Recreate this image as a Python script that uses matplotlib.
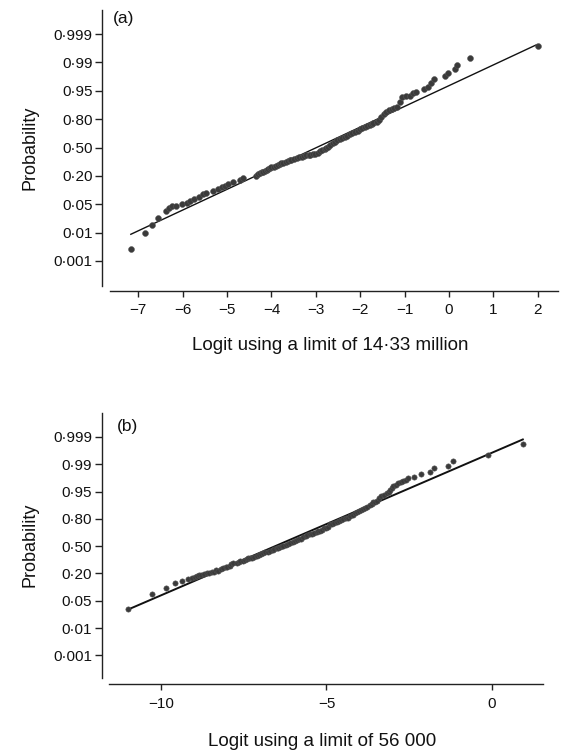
import matplotlib
matplotlib.use("Agg")
import matplotlib.pyplot as plt

plt.rcParams['font.family'] = ['Liberation Sans', 'DejaVu Sans']

# y positions are the equally spaced probability tick slots (0 = 0·001 ... 8 = 0·999)
prob_labels = ['0·001', '0·01', '0·05', '0·20', '0·50', '0·80', '0·95', '0·99', '0·999']
prob_slots = [0, 1, 2, 3, 4, 5, 6, 7, 8]

# Panel (a): logit using a limit of 14.33 million
a_x = [-7.17, -6.85, -6.69, -6.56, -6.38, -6.31, -6.25, -6.16, -6.02, -5.91,
       -5.84, -5.74, -5.63, -5.54, -5.48, -5.31, -5.21, -5.12, -5.05, -4.97,
       -4.87, -4.71, -4.64, -4.35, -4.30, -4.26, -4.22, -4.18, -4.15, -4.10,
       -4.07, -4.03, -4.00, -3.95, -3.90, -3.86, -3.81, -3.78, -3.74, -3.68,
       -3.62, -3.58, -3.55, -3.49, -3.43, -3.38, -3.32, -3.27, -3.21, -3.16,
       -3.12, -3.07, -3.02, -2.96, -2.91, -2.85, -2.80, -2.76, -2.72, -2.68,
       -2.62, -2.57, -2.52, -2.46, -2.40, -2.35, -2.29, -2.23, -2.18, -2.12,
       -2.06, -2.01, -1.95, -1.90, -1.84, -1.78, -1.74, -1.70, -1.63, -1.58,
       -1.52, -1.47, -1.41, -1.35, -1.29, -1.23, -1.17, -1.11, -1.05, -0.97,
       -0.88, -0.81, -0.73, -0.57, -0.47, -0.41, -0.33, -0.09, -0.02, 0.13,
       0.18, 0.47, 2.01]
a_y = [0.41, 0.98, 1.25, 1.51, 1.76, 1.86, 1.92, 1.95, 2.01, 2.06,
       2.12, 2.19, 2.27, 2.35, 2.41, 2.48, 2.54, 2.60, 2.66, 2.72,
       2.78, 2.86, 2.94, 3.00, 3.07, 3.10, 3.13, 3.15, 3.17, 3.20,
       3.23, 3.27, 3.30, 3.33, 3.36, 3.39, 3.42, 3.44, 3.47, 3.50,
       3.53, 3.55, 3.56, 3.59, 3.62, 3.65, 3.68, 3.70, 3.73, 3.74,
       3.75, 3.76, 3.77, 3.82, 3.86, 3.90, 3.94, 3.98, 4.03, 4.10,
       4.16, 4.20, 4.26, 4.30, 4.35, 4.38, 4.42, 4.46, 4.50, 4.55,
       4.60, 4.64, 4.69, 4.73, 4.77, 4.80, 4.83, 4.87, 4.91, 4.98,
       5.09, 5.18, 5.27, 5.31, 5.35, 5.40, 5.44, 5.62, 5.77, 5.80,
       5.83, 5.92, 5.97, 6.06, 6.13, 6.27, 6.42, 6.53, 6.62, 6.77,
       6.90, 7.14, 7.58]
a_fit_x = [-7.17, 1.97]
a_fit_y = [0.94, 7.62]
a_xticks = [-7, -6, -5, -4, -3, -2, -1, 0, 1, 2]

# Panel (b): logit using a limit of 56 000
b_x = [-10.99, -10.28, -9.86, -9.58, -9.36, -9.18, -9.05, -8.98, -8.92, -8.85,
       -8.79, -8.70, -8.62, -8.55, -8.47, -8.40, -8.35, -8.27, -8.20, -8.12,
       -8.05, -8.00, -7.92, -7.87, -7.82, -7.71, -7.65, -7.60, -7.51, -7.45,
       -7.41, -7.38, -7.31, -7.25, -7.18, -7.11, -7.05, -6.98, -6.91, -6.85,
       -6.78, -6.71, -6.62, -6.58, -6.50, -6.45, -6.40, -6.35, -6.30, -6.22,
       -6.16, -6.10, -6.02, -5.96, -5.90, -5.82, -5.76, -5.70, -5.62, -5.58,
       -5.50, -5.44, -5.39, -5.30, -5.26, -5.20, -5.14, -5.09, -5.00, -4.95,
       -4.89, -4.82, -4.76, -4.69, -4.62, -4.56, -4.50, -4.42, -4.34, -4.28,
       -4.20, -4.14, -4.08, -4.02, -3.95, -3.89, -3.84, -3.78, -3.70, -3.64,
       -3.59, -3.54, -3.48, -3.40, -3.34, -3.26, -3.18, -3.12, -3.08, -3.02,
       -2.98, -2.90, -2.83, -2.76, -2.68, -2.60, -2.53, -2.36, -2.15, -1.87,
       -1.75, -1.32, -1.19, -0.11, 0.95]
b_y = [1.68, 2.25, 2.45, 2.64, 2.73, 2.78, 2.84, 2.88, 2.90, 2.93,
       2.95, 2.99, 3.00, 3.03, 3.04, 3.07, 3.12, 3.10, 3.15, 3.19,
       3.22, 3.25, 3.28, 3.33, 3.40, 3.39, 3.41, 3.45, 3.47, 3.50,
       3.52, 3.56, 3.55, 3.58, 3.62, 3.65, 3.68, 3.70, 3.74, 3.77,
       3.80, 3.83, 3.86, 3.90, 3.92, 3.94, 3.98, 4.00, 4.01, 4.06,
       4.08, 4.12, 4.16, 4.20, 4.22, 4.26, 4.28, 4.32, 4.36, 4.40,
       4.45, 4.46, 4.47, 4.52, 4.55, 4.57, 4.60, 4.65, 4.68, 4.72,
       4.80, 4.80, 4.84, 4.89, 4.92, 4.95, 5.00, 5.02, 5.05, 5.10,
       5.15, 5.20, 5.26, 5.28, 5.33, 5.38, 5.40, 5.44, 5.50, 5.55,
       5.60, 5.62, 5.65, 5.75, 5.85, 5.88, 5.95, 6.00, 6.05, 6.12,
       6.20, 6.25, 6.32, 6.36, 6.40, 6.44, 6.48, 6.54, 6.64, 6.73,
       6.85, 6.93, 7.13, 7.34, 7.74]
b_fit_x = [-10.99, 0.93]
b_fit_y = [1.68, 7.91]
b_xticks = [-10, -5, 0]

W, H = 563, 752
fig = plt.figure(figsize=(W / 100, H / 100), dpi=100)

axis_col = '#222222'
pt_col = '#3a3a3a'


def make_panel(rect, xlim, xbounds, ylim, ybounds, xs, ys, fx, fy, xticks,
               tag, tag_px, xlabel, ylabel_y, xlabel_y, lw, ms):
    ax = fig.add_axes(rect)
    ax.plot(fx, fy, color='#111111', lw=lw, zorder=2)
    ax.plot(xs, ys, linestyle='none', marker='o', markersize=ms,
            markerfacecolor=pt_col, markeredgecolor='#555555',
            markeredgewidth=0.4, zorder=3)
    ax.set_xlim(*xlim)
    ax.set_ylim(*ylim)
    for s in ('top', 'right'):
        ax.spines[s].set_visible(False)
    ax.spines['left'].set_bounds(*ybounds)
    ax.spines['bottom'].set_bounds(*xbounds)
    for s in ('left', 'bottom'):
        ax.spines[s].set_color(axis_col)
        ax.spines[s].set_linewidth(1.0)
    ax.set_yticks(prob_slots)
    ax.set_yticklabels(prob_labels)
    ax.set_xticks(xticks)
    ax.tick_params(axis='both', colors=axis_col, labelcolor='#111111',
                   labelsize=11, width=1.0)
    ax.tick_params(axis='x', pad=5, length=4)
    ax.tick_params(axis='y', pad=2, length=4.8)
    fig.text(tag_px[0] / W, 1 - tag_px[1] / H, tag, fontsize=12.5,
             ha='left', va='center', color='#111111')
    fig.text(30 / W, 1 - ylabel_y / H, 'Probability', rotation=90,
             fontsize=13, ha='center', va='center', color='#111111')
    fig.text((rect[0] + rect[0] + rect[2]) / 2, 1 - xlabel_y / H, xlabel,
             fontsize=13.5, ha='center', va='center', color='#111111')
    return ax


make_panel([102 / W, 1 - 290.7 / H, (558 - 102) / W, (290.7 - 10) / H],
           (-7.82, 2.46), (-7.63, 2.46), (-1.05, 8.85), (-0.87, 8.85),
           a_x, a_y, a_fit_x, a_fit_y, a_xticks, '(a)', (113, 19),
           'Logit using a limit of 14·33 million', 148, 346, 1.0, 4.2)

make_panel([101.7 / W, 1 - 684 / H, (543 - 101.7) / W, (684 - 412.7) / H],
           (-11.79, 1.54), (-11.57, 1.54), (-1.05, 8.89), (-0.84, 8.89),
           b_x, b_y, b_fit_x, b_fit_y, b_xticks, '(b)', (117, 426),
           'Logit using a limit of 56 000', 545, 742, 1.4, 3.8)

fig.savefig('out.png', dpi=100)
